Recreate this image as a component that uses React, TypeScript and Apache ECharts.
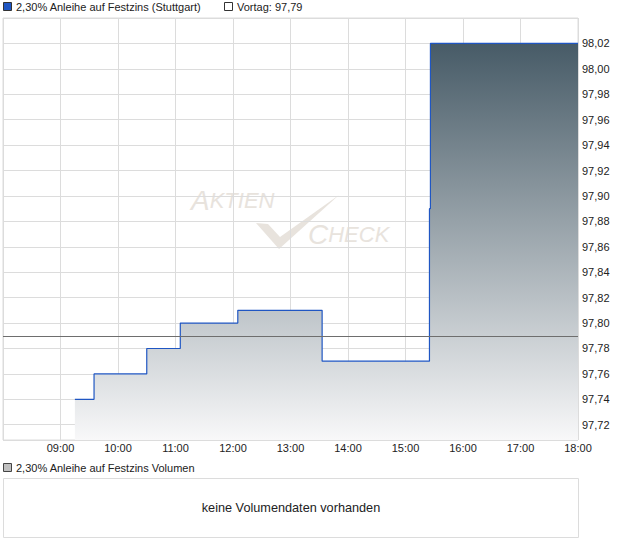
import React, { useEffect, useRef } from "react";
import * as echarts from "echarts";

// Intraday quotes (Stuttgart): time of each price change and the new price
const stepTimes = ["09:15", "09:35", "10:30", "11:05", "12:05", "13:33", "15:25", "15:26", "18:00"];
const stepPrices = [97.74, 97.76, 97.78, 97.8, 97.81, 97.77, 97.89, 98.02, 98.02];

// Previous day's close
const prevClose = 97.79;

// Session window on the x axis (hours)
const sessionStart = "08:00";
const sessionEnd = "18:00";

const seriesName = "2,30% Anleihe auf Festzins (Stuttgart)";
const volumeName = "2,30% Anleihe auf Festzins Volumen";
const noVolumeText = "keine Volumendaten vorhanden";

const FONT = "Liberation Sans, Arial, sans-serif";

const toMinutes = (t: string) => {
  const [h, m] = t.split(":").map(Number);
  return h * 60 + m;
};
const fmtTime = (v: number) => {
  const h = Math.floor(v / 60);
  const m = Math.round(v % 60);
  return `${String(h).padStart(2, "0")}:${String(m).padStart(2, "0")}`;
};
const fmtPrice = (v: number) => v.toFixed(2).replace(".", ",");

export default function App() {
  const ref = useRef<HTMLDivElement>(null);

  useEffect(() => {
    document.body.style.margin = "0";
    if (!ref.current) return;
    const chart = echarts.init(ref.current, null, { renderer: "svg" });

    const data = stepTimes.map((t, i) => [toMinutes(t), stepPrices[i]]);

    const gridLeft = 3;
    const gridTop = 18;
    const gridRight = 578;
    const gridBottom = 440;

    const wmColor = "#e8e3dd";
    const wmRich = {
      a: { fontSize: 28, fontStyle: "italic", fontFamily: FONT, fill: wmColor, color: wmColor },
      b: { fontSize: 22, fontStyle: "italic", fontFamily: FONT, fill: wmColor, color: wmColor },
    };

    chart.setOption({
      animation: false,
      backgroundColor: "#ffffff",
      textStyle: { fontFamily: FONT },
      grid: {
        left: gridLeft,
        top: gridTop,
        width: gridRight - gridLeft,
        height: gridBottom - gridTop,
        show: true,
        borderColor: "#dcdcdc",
        borderWidth: 1,
        containLabel: false,
      },
      xAxis: {
        type: "value",
        min: toMinutes(sessionStart),
        max: toMinutes(sessionEnd),
        interval: 60,
        axisLine: { show: false },
        axisTick: { show: false },
        splitLine: { show: true, lineStyle: { color: "#dcdcdc", width: 1 } },
        axisLabel: {
          showMinLabel: false,
          formatter: (v: number) => fmtTime(v),
          color: "#222",
          fontSize: 11,
          fontFamily: FONT,
          margin: 2,
        },
      },
      yAxis: {
        type: "value",
        position: "right",
        min: 97.708,
        max: 98.04,
        splitNumber: 16,
        minInterval: 0.02,
        maxInterval: 0.02,
        axisLine: { show: false },
        axisTick: { show: false },
        splitLine: { show: true, lineStyle: { color: "#dcdcdc", width: 1 } },
        axisLabel: {
          showMinLabel: false,
          showMaxLabel: false,
          formatter: (v: number) => fmtPrice(v),
          color: "#222",
          fontSize: 11,
          fontFamily: FONT,
          margin: 4,
        },
      },
      series: [
        {
          type: "line",
          name: seriesName,
          data,
          step: "end",
          symbol: "none",
          z: 3,
          lineStyle: { color: "#1f56c3", width: 1.2 },
          areaStyle: {
            origin: "start",
            color: new echarts.graphic.LinearGradient(0, 0, 0, 1, [
              { offset: 0, color: "#475b67" },
              { offset: 1, color: "#f8f8f9" },
            ]),
            opacity: 1,
          },
          markLine: {
            silent: true,
            symbol: "none",
            label: { show: false },
            lineStyle: { color: "#6e6e6e", width: 1, type: "solid" },
            data: [{ yAxis: prevClose }],
            z: 4,
          },
        },
      ],
      graphic: [
        // watermark
        {
          type: "text",
          z: -1,
          silent: true,
          x: 191,
          y: 214,
          style: { text: "{a|A}{b|KTIEN}", verticalAlign: "bottom", rich: wmRich },
        },
        {
          type: "text",
          z: -1,
          silent: true,
          x: 308,
          y: 248,
          style: { text: "{a|C}{b|HECK}", verticalAlign: "bottom", rich: wmRich },
        },
        {
          type: "polygon",
          z: -1,
          silent: true,
          shape: {
            points: [
              [256, 223],
              [268, 224],
              [280, 237],
              [339, 195],
              [279, 249],
            ],
          },
          style: { fill: wmColor },
        },
        // price legend
        {
          type: "rect",
          shape: { x: 3.5, y: 2.5, width: 8, height: 8 },
          style: { fill: "#1f56c3", stroke: "#333", lineWidth: 1 },
        },
        {
          type: "text",
          x: 16,
          y: 7,
          style: {
            text: seriesName,
            fontSize: 11,
            fontFamily: FONT,
            fill: "#222",
            verticalAlign: "middle",
          },
        },
        {
          type: "rect",
          shape: { x: 224.5, y: 2.5, width: 8, height: 8 },
          style: { fill: "#fff", stroke: "#333", lineWidth: 1 },
        },
        {
          type: "text",
          x: 237,
          y: 7,
          style: {
            text: "Vortag: " + fmtPrice(prevClose),
            fontSize: 11,
            fontFamily: FONT,
            fill: "#222",
            verticalAlign: "middle",
          },
        },
        // volume panel
        {
          type: "rect",
          shape: { x: 3.5, y: 463.5, width: 8, height: 8 },
          style: { fill: "#c0c0c0", stroke: "#444", lineWidth: 1 },
        },
        {
          type: "text",
          x: 16,
          y: 468,
          style: {
            text: volumeName,
            fontSize: 11,
            fontFamily: FONT,
            fill: "#222",
            verticalAlign: "middle",
          },
        },
        {
          type: "rect",
          shape: { x: 3.5, y: 478.5, width: 575, height: 59 },
          style: { fill: "#fff", stroke: "#dcdcdc", lineWidth: 1 },
        },
        {
          type: "text",
          x: 291,
          y: 508,
          style: {
            text: noVolumeText,
            fontSize: 12.7,
            fontFamily: FONT,
            fill: "#222",
            align: "center",
            verticalAlign: "middle",
          },
        },
      ],
    });

    return () => chart.dispose();
  }, []);

  return <div ref={ref} style={{ width: 620, height: 546 }} />;
}
